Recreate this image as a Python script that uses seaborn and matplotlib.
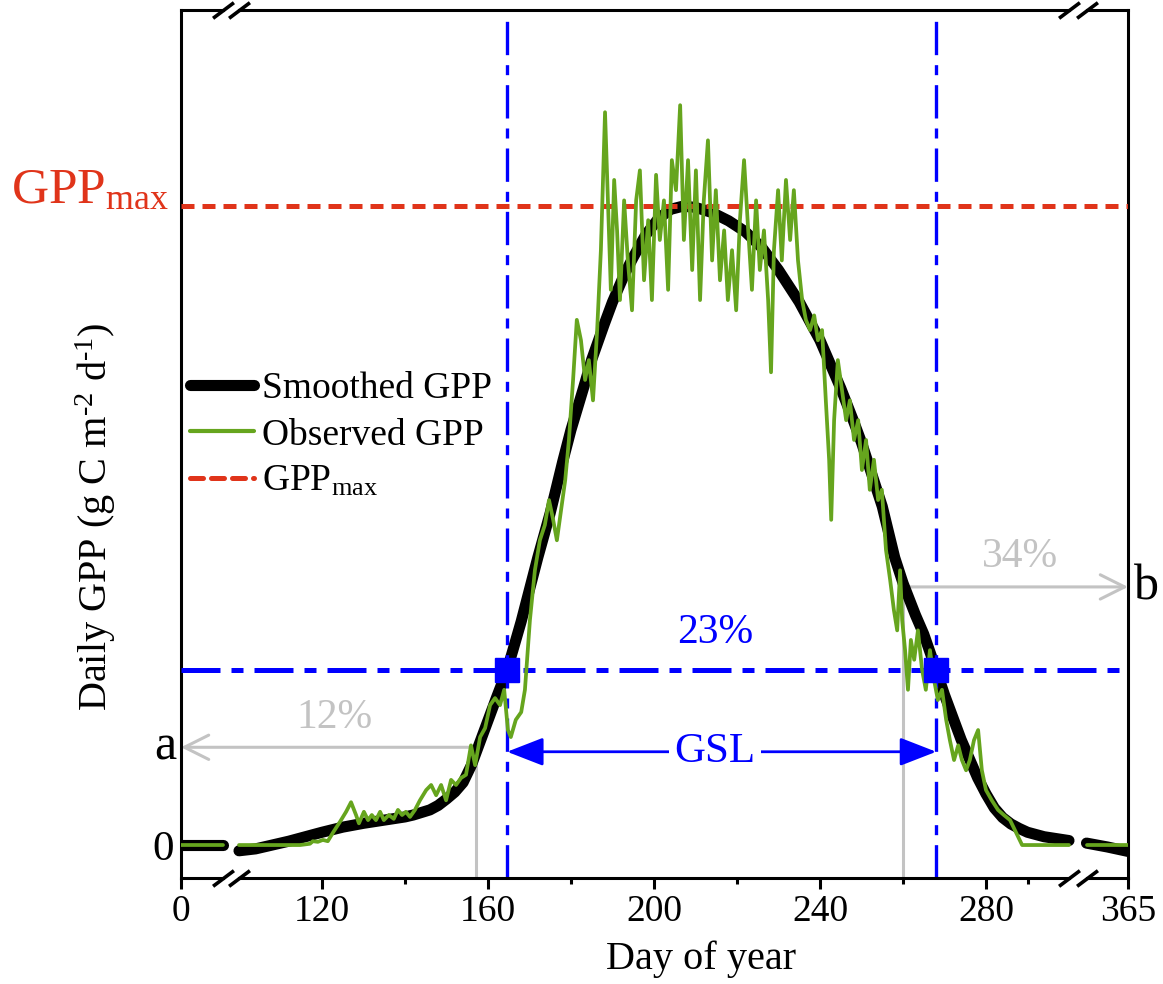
import numpy as np
import pandas as pd
import matplotlib
matplotlib.use("Agg")
import matplotlib.pyplot as plt
import matplotlib.transforms as mtransforms
from matplotlib.lines import Line2D
from matplotlib.ticker import FixedLocator
import seaborn as sns

# ---------------------------------------------------------------- data
# Smoothed seasonal GPP (g C m-2 d-1) by day of year
smooth_day = [0, 10,
              100, 104, 108, 112, 116, 120, 125, 130, 135, 140, 142, 146, 148, 150,
              152, 154, 156, 158, 160, 162, 164.6, 166, 168, 170, 172, 175, 178, 180,
              183, 185, 188, 190, 193, 195, 198, 201, 204, 207, 210, 214, 218, 222,
              226, 230, 235, 240, 243, 245, 248, 250, 253, 255, 258, 260, 263, 265,
              268, 270, 272, 274, 276, 278, 280, 282, 284, 286, 288, 290, 294, 300,
              355, 360, 365]
smooth_gpp = [0.0, 0.0,
              -0.09, -0.06, 0.0, 0.06, 0.13, 0.20, 0.28, 0.34, 0.39, 0.44, 0.47, 0.55, 0.62, 0.72,
              0.83, 0.98, 1.25, 1.60, 1.95, 2.30, 2.74, 3.05, 3.50, 4.00, 4.50, 5.20, 6.00, 6.50,
              7.15, 7.60, 8.15, 8.50, 8.95, 9.20, 9.55, 9.80, 9.95, 10.0, 9.98, 9.90, 9.77, 9.60,
              9.35, 9.00, 8.50, 7.90, 7.45, 7.15, 6.65, 6.30, 5.70, 5.30, 4.50, 4.10, 3.60, 3.30,
              2.74, 2.35, 2.00, 1.65, 1.35, 1.05, 0.80, 0.58, 0.43, 0.33, 0.26, 0.20, 0.13, 0.07,
              0.03, -0.03, -0.10]

# Observed daily GPP
obs_day = [0, 10,
           100, 114.7, 117.1, 117.8, 119.0, 120.2, 121.4, 122.7, 124.3, 125.8, 127.0, 128.2,
           128.9, 130.1, 131.1, 132.0, 133.0, 134.0, 134.9, 136.1, 137.3, 138.3, 139.3, 140.2,
           141.2, 142.4, 143.6, 145.1, 146.3, 147.5, 148.7, 149.9, 151.1, 152.3, 153.5, 154.7,
           155.9, 156.9, 158.1, 159.3, 160.5, 161.7, 162.9, 163.9, 164.8, 165.5, 166.7, 168.0,
           168.9, 170.1, 171.3, 172.5, 173.7, 174.7, 175.7, 176.6, 177.6, 178.6, 179.5, 180.5,
           181.4, 182.4, 183.4, 184.3, 185.3, 186.3, 187.2, 188.2, 188.9, 189.6, 190.4, 191.1,
           191.8, 192.8, 193.7, 194.7, 195.7, 196.6, 197.6, 198.6, 199.5, 200.5, 201.4, 202.4,
           203.4, 204.3, 205.3, 206.3, 207.2, 208.2, 209.2, 210.1, 211.1, 212.0, 213.0, 214.0,
           214.9, 215.9, 216.9, 217.8, 218.8, 219.8, 220.7, 221.7, 222.7, 223.6, 224.6, 225.5,
           226.5, 227.5, 228.2, 228.9, 229.9, 230.8, 231.8, 232.8, 233.7, 234.7, 235.7, 236.6,
           237.6, 238.6, 239.5, 240.5, 241.4, 242.2, 242.7, 243.4, 244.3, 245.3, 246.3, 247.2,
           248.2, 249.2, 250.1, 251.1, 252.0, 253.0, 254.0, 254.9, 255.9, 256.9, 257.8, 258.6,
           259.3, 259.8, 260.5, 261.2, 261.9, 262.7, 263.6, 264.6, 265.5, 266.5, 267.5, 268.4,
           269.4, 270.4, 271.3, 272.3, 273.3, 274.2, 275.2, 276.1, 277.1, 278.1, 279.0, 280.0,
           281.4, 282.9, 284.3, 285.8, 287.2, 288.7, 300,
           355, 365]
obs_gpp = [0.0, 0.0,
           0.0, 0.0, 0.02, 0.06, 0.05, 0.08, 0.06, 0.20, 0.36, 0.52, 0.67, 0.47,
           0.34, 0.52, 0.39, 0.47, 0.39, 0.52, 0.39, 0.47, 0.41, 0.55, 0.47, 0.52,
           0.44, 0.55, 0.70, 0.86, 0.94, 0.78, 0.94, 0.70, 1.02, 0.94, 1.05, 1.10,
           1.56, 1.25, 1.69, 1.83, 2.19, 2.30, 2.19, 2.43, 1.80, 1.69, 1.96, 2.08,
           2.43, 3.52, 4.30, 4.77, 5.01, 5.40, 5.09, 4.77, 5.24, 5.71, 6.34, 7.28,
           8.22, 7.90, 7.28, 7.59, 6.96, 8.06, 9.31, 11.47, 10.09, 8.69, 10.41, 9.62,
           8.53, 10.09, 9.15, 8.37, 10.09, 10.56, 8.84, 9.78, 8.53, 10.49, 9.47, 10.09,
           8.69, 10.72, 10.25, 11.58, 9.47, 10.72, 9.00, 10.56, 8.53, 10.09, 11.03, 9.15,
           10.25, 8.84, 9.62, 8.53, 9.31, 8.37, 9.78, 10.72, 9.62, 8.69, 10.09, 9.00,
           9.62, 8.53, 7.40, 9.31, 10.25, 9.15, 10.41, 9.47, 10.25, 9.15, 8.53, 8.22,
           8.06, 8.29, 7.90, 8.06, 6.96, 6.03, 5.09, 6.65, 7.59, 7.12, 6.65, 6.96,
           6.34, 6.65, 5.87, 6.34, 5.56, 6.03, 5.40, 5.56, 4.62, 4.15, 3.68, 3.36,
           4.30, 3.52, 3.05, 2.43, 3.21, 2.90, 3.36, 2.74, 2.43, 3.05, 2.58, 2.27,
           2.43, 1.96, 1.64, 1.33, 1.56, 1.33, 1.17, 1.33, 1.64, 1.80, 1.17, 0.86,
           0.70, 0.55, 0.47, 0.39, 0.20, 0.0, 0.0,
           0.0, 0.0]

gpp_max = 10.0
threshold = 2.74          # 23 % level
sos, eos = 164.6, 268.0   # start / end of growing season
level_a, day_a = 1.53, 157.2
level_b, day_b = 4.04, 260.0

tick_days = [0, 120, 160, 200, 240, 280, 365]
tick_labels = ["0", "120", "160", "200", "240", "280", "365"]
minor_days = [140, 180, 220, 260, 290]

# broken day-of-year axis: days shown 0-10, 100-300, 355-365
break_days = [0, 10, 100, 300, 355, 365]
break_pos = [0, 41.5, 58, 888, 905.5, 947]


def segment(days):
    d = np.asarray(days, dtype=float)
    return np.select([d <= 10, d <= 300], [0, 1], 2)


smooth_df = pd.DataFrame({"day": smooth_day, "gpp": smooth_gpp, "seg": segment(smooth_day)})
obs_df = pd.DataFrame({"day": obs_day, "gpp": obs_gpp, "seg": segment(obs_day)})

# ---------------------------------------------------------------- style
sns.set_style("ticks")
plt.rcParams["font.family"] = ["Liberation Serif", "DejaVu Serif"]
plt.rcParams["mathtext.fontset"] = "custom"
plt.rcParams["mathtext.rm"] = "Liberation Serif"
plt.rcParams["mathtext.it"] = "Liberation Serif:italic"
plt.rcParams["mathtext.bf"] = "Liberation Serif:bold"
for key in ("text.color", "axes.labelcolor", "xtick.color", "ytick.color", "axes.edgecolor"):
    plt.rcParams[key] = "black"

GREEN = "#66a51e"
RED = "#e0341a"
BLUE = "#0000ff"
GRAY = "#c3c3c3"

fig = plt.figure(figsize=(11.63, 9.84), dpi=100)
ax = fig.add_axes([181 / 1163, 1 - 878 / 984, 947 / 1163, 868 / 984])

sns.lineplot(data=smooth_df, x="day", y="gpp", units="seg", estimator=None, sort=False,
             color="black", lw=8, ax=ax, legend=False, zorder=2)
sns.lineplot(data=obs_df, x="day", y="gpp", units="seg", estimator=None, sort=False,
             color=GREEN, lw=2.7, ax=ax, legend=False, zorder=4)


def fwd(x):
    return np.interp(x, break_days, break_pos)


def inv(x):
    return np.interp(x, break_pos, break_days)


ax.set_xscale("function", functions=(fwd, inv))
ax.set_xlim(0, 365)
ymin, ymax = -0.516, 13.07
ax.set_ylim(ymin, ymax)

# reference lines
ax.axhline(gpp_max, color=RED, lw=3.6, dashes=(2.6, 1.6), zorder=3.5)
ax.axhline(threshold, color=BLUE, lw=3.6, dashes=(7.8, 2.2, 2.4, 2.2), zorder=3)
for d in (sos, eos):
    ax.axvline(d, color=BLUE, lw=2.4, dashes=(10, 3, 3, 3), zorder=3)
ax.plot([sos, eos], [threshold, threshold], ls="none", marker="s", ms=17,
        color=BLUE, zorder=6)

# 12 % / 34 % guides
ax.plot([day_a, day_a], [ymin, level_a], color=GRAY, lw=2.2, zorder=1)
ax.plot([day_b, day_b], [ymin, level_b], color=GRAY, lw=2.2, zorder=1)
ax.annotate("", xy=(0, level_a), xytext=(day_a, level_a),
            arrowprops=dict(arrowstyle="->,head_length=0.7,head_width=0.35", color=GRAY,
                            lw=2.2, mutation_scale=25, shrinkA=0, shrinkB=0), zorder=1)
ax.annotate("", xy=(365, level_b), xytext=(day_b, level_b),
            arrowprops=dict(arrowstyle="->,head_length=0.7,head_width=0.35", color=GRAY,
                            lw=2.2, mutation_scale=25, shrinkA=0, shrinkB=0), zorder=1)
ax.text(123.1, 1.99, "12%", color=GRAY, fontsize=30, ha="center", va="center")
ax.text(288.2, 4.51, "34%", color=GRAY, fontsize=30, ha="center", va="center")

# growing season length
gsl_y = 1.46
ax.annotate("", xy=(sos, gsl_y), xytext=(eos, gsl_y),
            arrowprops=dict(arrowstyle="<|-|>,head_length=0.9,head_width=0.35", color=BLUE,
                            lw=2, mutation_scale=25, shrinkA=0, shrinkB=0), zorder=3)
ax.text(214.7, gsl_y, "GSL", color=BLUE, fontsize=31, ha="center", va="center",
        bbox=dict(facecolor="white", edgecolor="none", pad=4), zorder=4)
ax.text(214.7, 3.32, "23%", color=BLUE, fontsize=30, ha="center", va="center")

# side labels
trans_y = mtransforms.blended_transform_factory(ax.transAxes, ax.transData)
ax.text(-0.005, level_a, "a", fontsize=36, ha="right", va="center", transform=trans_y)
ax.text(1.006, level_b, "b", fontsize=36, ha="left", va="center", transform=trans_y)
ax.text(-0.013, 10.05, r"GPP$_{\mathrm{max}}$", color=RED, fontsize=37, ha="right",
        va="baseline", transform=trans_y)

# axes, ticks and broken spines
ax.xaxis.set_major_locator(FixedLocator(tick_days))
ax.set_xticklabels(tick_labels)
ax.xaxis.set_minor_locator(FixedLocator(minor_days))
ax.tick_params(axis="x", which="major", length=8, width=2.2, labelsize=27, pad=4)
ax.tick_params(axis="x", which="minor", length=4.5, width=2.2)
ax.set_yticks([0])
ax.set_yticklabels(["0"])
ax.tick_params(axis="y", length=0, labelsize=31, pad=5)

for side in ("left", "right"):
    ax.spines[side].set_linewidth(2.2)
    ax.spines[side].set_visible(True)
for side in ("top", "bottom"):
    ax.spines[side].set_visible(False)

trans_x = mtransforms.blended_transform_factory(ax.transData, ax.transAxes)
for yy in (0, 1):
    for a, b in ((0, 10), (100, 300), (355, 365)):
        ax.plot([a, b], [yy, yy], color="black", lw=2.2, transform=trans_x,
                clip_on=False, solid_capstyle="projecting", zorder=7)
    ax.plot([10, 100, 300, 355], [yy] * 4, ls="none", marker=[(-1, -0.75), (1, 0.75)],
            ms=15, mew=2.6, color="black", transform=trans_x, clip_on=False, zorder=8)

ax.set_xlabel("Day of year", fontsize=29, va="top")
ax.xaxis.set_label_coords(0.549, -0.072)
ax.set_ylabel("Daily GPP (g C m$^{\\mathrm{\u20102}}$ d$^{\\mathrm{\u20101}}$)", fontsize=29)
ax.yaxis.set_label_coords(-0.067, 0.416)

handles = [
    Line2D([], [], color="black", lw=8, solid_capstyle="round"),
    Line2D([], [], color=GREEN, lw=3),
    Line2D([], [], color=RED, lw=3.6, dashes=(2.6, 1.6), dash_capstyle="round"),
]
labels = ["Smoothed GPP", "Observed GPP", r"GPP$_{\mathrm{max}}$"]
ax.legend(handles, labels, loc="center left", bbox_to_anchor=(0.0095, 0.51),
          frameon=False, fontsize=27, handlelength=1.7, handletextpad=0.22,
          labelspacing=0.32, borderpad=0, borderaxespad=0)

fig.savefig("out.png", dpi=100)
